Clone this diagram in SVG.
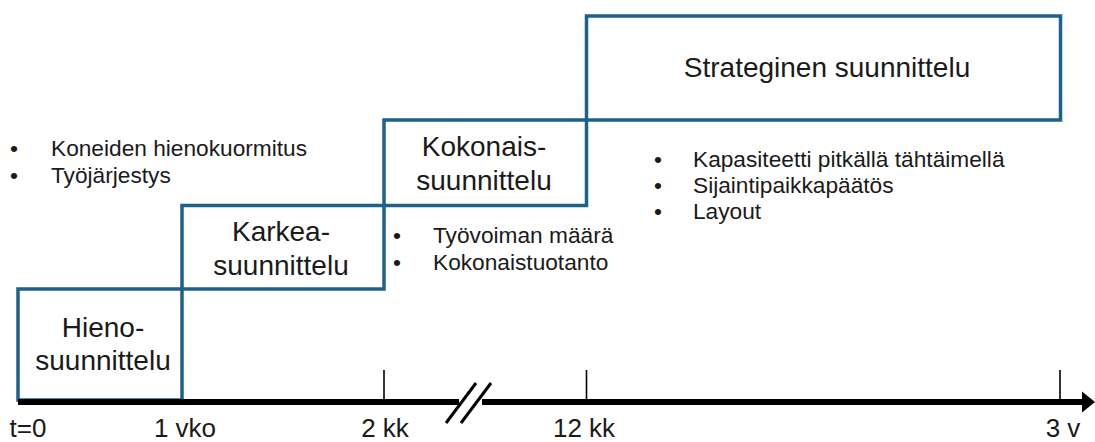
<svg xmlns="http://www.w3.org/2000/svg" width="1095" height="442" viewBox="0 0 1095 442">
  <style>
    .box { fill: none; stroke: #1d6288; stroke-width: 3.5; }
    .big { font-family: "Liberation Sans", Arial, sans-serif; font-size: 28px; fill: #1a1a1a; text-anchor: middle; }
    .item { font-family: "Liberation Sans", Arial, sans-serif; font-size: 22.7px; fill: #1a1a1a; }
    .tickl { font-family: "Liberation Sans", Arial, sans-serif; font-size: 26px; fill: #1a1a1a; text-anchor: middle; }
    .axis { stroke: #000; stroke-width: 6; fill: none; }
    .tick { stroke: #000; stroke-width: 1.6; }
    .brk { stroke: #000; stroke-width: 3; }
  </style>

  <rect width="1095" height="442" fill="#fff"/>

  <!-- planning levels -->
  <g id="hienosuunnittelu">
    <rect class="box" x="18" y="289" width="164" height="111"/>
    <text class="big" x="103" y="337">Hieno-</text>
    <text class="big" x="103" y="370">suunnittelu</text>
  </g>

  <g id="karkeasuunnittelu">
    <rect class="box" x="182" y="205.5" width="202" height="83.5"/>
    <text class="big" x="281" y="241">Karkea-</text>
    <text class="big" x="281" y="275">suunnittelu</text>
  </g>

  <g id="kokonaissuunnittelu">
    <rect class="box" x="384" y="120" width="202.5" height="85.5"/>
    <text class="big" x="484" y="156">Kokonais-</text>
    <text class="big" x="484" y="190">suunnittelu</text>
  </g>

  <g id="strateginen">
    <rect class="box" x="586.5" y="16" width="474" height="104"/>
    <text class="big" x="827" y="77">Strateginen suunnittelu</text>
  </g>

  <!-- task lists -->
  <g id="tehtavat-hieno">
    <text class="item" x="10" y="156">•</text>
    <text class="item" x="51" y="156">Koneiden hienokuormitus</text>
    <text class="item" x="10" y="182.5">•</text>
    <text class="item" x="51" y="182.5">Työjärjestys</text>
  </g>

  <g id="tehtavat-kokonais">
    <text class="item" x="393" y="242.5">•</text>
    <text class="item" x="433" y="242.5">Työvoiman määrä</text>
    <text class="item" x="393" y="270">•</text>
    <text class="item" x="433" y="270">Kokonaistuotanto</text>
  </g>

  <g id="tehtavat-strateginen">
    <text class="item" x="654" y="166.5">•</text>
    <text class="item" x="693" y="166.5">Kapasiteetti pitkällä tähtäimellä</text>
    <text class="item" x="654" y="192.5">•</text>
    <text class="item" x="693" y="192.5">Sijaintipaikkapäätös</text>
    <text class="item" x="654" y="218.5">•</text>
    <text class="item" x="693" y="218.5">Layout</text>
  </g>

  <!-- time axis -->
  <g id="aika-akseli">
    <line class="axis" x1="18" y1="402" x2="459" y2="402"/>
    <line class="axis" x1="482" y1="402" x2="1085" y2="402"/>
    <polygon points="1082,391.5 1095,402 1082,412.5" fill="#000"/>
    <line class="brk" x1="446" y1="423" x2="476" y2="383"/>
    <line class="brk" x1="461" y1="423" x2="491" y2="383"/>
    <line class="tick" x1="384" y1="370" x2="384" y2="400"/>
    <line class="tick" x1="586.5" y1="370" x2="586.5" y2="400"/>
    <line class="tick" x1="1060" y1="370" x2="1060" y2="400"/>
  </g>

  <g id="aika-merkinnat">
    <text class="tickl" x="28" y="437">t=0</text>
    <text class="tickl" x="185" y="437">1 vko</text>
    <text class="tickl" x="385" y="437">2 kk</text>
    <text class="tickl" x="584" y="437">12 kk</text>
    <text class="tickl" x="1063" y="437">3 v</text>
  </g>
</svg>
